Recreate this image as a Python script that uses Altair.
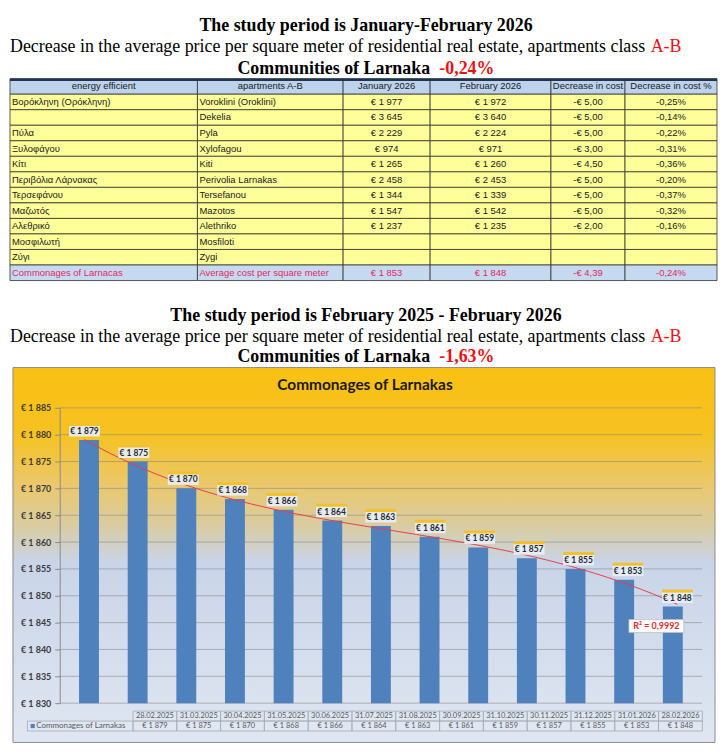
import altair as alt
import pandas as pd

# ---------------- data ----------------
HEADERS = ["energy efficient", "apartments A-B", "January 2026", "February 2026",
           "Decrease in cost", "Decrease in cost %"]
GR_NAMES = ["Βορόκληνη (Ορόκληνη)", "", "Πύλα", "Ξυλοφάγου", "Κίτι", "Περιβόλια Λάρνακας",
            "Τερσεφάνου", "Μαζωτός", "Αλεθρικό", "Μοσφιλωτή", "Ζύγι", "Commonages of Larnacas"]
EN_NAMES = ["Voroklini (Oroklini)", "Dekelia", "Pyla", "Xylofagou", "Kiti", "Perivolia Larnakas",
            "Tersefanou", "Mazotos", "Alethriko", "Mosfiloti", "Zygi", "Average cost per square meter"]
JAN_2026 = [1977, 3645, 2229, 974, 1265, 2458, 1344, 1547, 1237, None, None, 1853]
FEB_2026 = [1972, 3640, 2224, 971, 1260, 2453, 1339, 1542, 1235, None, None, 1848]
DECREASE = [-5.00, -5.00, -5.00, -3.00, -4.50, -5.00, -5.00, -5.00, -2.00, None, None, -4.39]
DECREASE_PCT = [-0.25, -0.14, -0.22, -0.31, -0.36, -0.20, -0.37, -0.32, -0.16, None, None, -0.24]

DATES = ["28.02.2025", "31.03.2025", "30.04.2025", "31.05.2025", "30.06.2025", "31.07.2025",
         "31.08.2025", "30.09.2025", "31.10.2025", "30.11.2025", "31.12.2025", "31.01.2026",
         "28.02.2026"]
PRICES = [1879, 1875, 1870, 1868, 1866, 1864, 1863, 1861, 1859, 1857, 1855, 1853, 1848]
Y_TICKS = [1830, 1835, 1840, 1845, 1850, 1855, 1860, 1865, 1870, 1875, 1880, 1885]
SERIES_NAME = "Commonages of Larnakas"
R2_LABEL = "R² = 0,9992"

TITLE_1 = "The study period is January-February 2026"
TITLE_2 = "The study period is February 2025 - February 2026"
SUBTITLE = "Decrease in the average price per square meter of residential real estate, apartments class"
CLASS_TXT = "A-B"
COMMUNITY = "Communities of Larnaka"
CHANGE_1 = "-0,24%"
CHANGE_2 = "-1,63%"

# ---------------- layout / style ----------------
W = 711
SERIF = "Liberation Serif, Times New Roman, serif"
SANS = "Liberation Sans, Arial, sans-serif"
CAL = "Lato, Liberation Sans, sans-serif"
RED = "#EE1111"
COL_EDGES = [0, 188.5, 335, 422.5, 544, 618.5, 711]


def eur(v):
    return "€ " + f"{v:,}".replace(",", " ")


def eur_dec(v):
    return ("-" if v < 0 else "") + "€ " + f"{abs(v):.2f}".replace(".", ",")


def pct(v):
    return f"{v:.2f}%".replace(".", ",")


def txt(text, x, y, size=18, bold=False, color="black", align="left", font=SERIF):
    return alt.Chart(alt.Data(values=[{"t": text}])).mark_text(
        align=align, baseline="middle", font=font, fontSize=size,
        fontWeight="bold" if bold else "normal", color=color
    ).encode(x=alt.value(x), y=alt.value(y), text="t:N")


def header_panel(title, change, height, y1, y2, y3):
    cx = 358
    start3 = cx - 129.3
    return alt.layer(
        txt(title, cx, y1, bold=True, align="center"),
        txt(SUBTITLE, 0, y2),
        txt(CLASS_TXT, 644.3, y2, color=RED),
        txt(COMMUNITY, start3, y3, bold=True),
        txt(change, start3 + 203, y3, bold=True, color=RED),
    ).properties(width=W, height=height)


# ---------------- panel B : table ----------------
rows = [["head"] + HEADERS]
for i in range(12):
    kind = "total" if i == 11 else "data"
    rows.append([
        kind, GR_NAMES[i], EN_NAMES[i],
        eur(JAN_2026[i]) if JAN_2026[i] is not None else "",
        eur(FEB_2026[i]) if FEB_2026[i] is not None else "",
        eur_dec(DECREASE[i]) if DECREASE[i] is not None else "",
        pct(DECREASE_PCT[i]) if DECREASE_PCT[i] is not None else "",
    ])
cell_recs = []
for r, row in enumerate(rows):
    kind = row[0]
    for c in range(6):
        cell_recs.append({
            "row": r, "col": c, "x0": COL_EDGES[c], "x1": COL_EDGES[c + 1],
            "xc": (COL_EDGES[c] + COL_EDGES[c + 1]) / 2, "kind": kind, "t": row[c + 1],
            "al": "left" if (c < 2 and kind != "head") else "center",
        })
cells = pd.DataFrame(cell_recs)

XT = alt.Scale(domain=[0, W], range=[0, W], nice=False, zero=False)
YT = alt.Scale(domain=list(range(13)), range=[0, 203], paddingInner=0, paddingOuter=0)
kinds = ["head", "data", "total"]
fill_sc = alt.Scale(domain=kinds, range=["#BDD2EC", "#FFFF99", "#C5D9F1"])
txt_sc = alt.Scale(domain=kinds, range=["#1A1A1A", "#1A1A1A", "#E2285A"])

base_t = alt.Chart(cells)
t_cells = base_t.mark_rect(stroke="#333333", strokeWidth=0.8).encode(
    x=alt.X("x0:Q", scale=XT, axis=None), x2="x1:Q",
    y=alt.Y("row:O", scale=YT, axis=None),
    fill=alt.Fill("kind:N", scale=fill_sc, legend=None),
)
t_left = base_t.transform_filter("datum.al == 'left'").mark_text(
    align="left", baseline="middle", font=SANS, fontSize=9.5, dx=2
).encode(
    x=alt.X("x0:Q", scale=XT, axis=None), y=alt.Y("row:O", scale=YT, axis=None),
    text="t:N", color=alt.Color("kind:N", scale=txt_sc, legend=None),
)
t_center = base_t.transform_filter("datum.al == 'center'").mark_text(
    align="center", baseline="middle", font=SANS, fontSize=9.5
).encode(
    x=alt.X("xc:Q", scale=XT, axis=None), y=alt.Y("row:O", scale=YT, axis=None),
    text="t:N", color=alt.Color("kind:N", scale=txt_sc, legend=None),
)
t_top = alt.Chart(alt.Data(values=[{}])).mark_rule(color="#1F3550", strokeWidth=2.5).encode(
    x=alt.value(0), x2=alt.value(W), y=alt.value(1))
panel_b = alt.layer(t_cells, t_left, t_center, t_top).properties(width=W, height=203)

# ---------------- panel D : bar chart ----------------
H_D = 378
PL, PR, PT, PB = 50, 696, 41, 338
XP = alt.Scale(domain=[-0.5, 12.5], range=[PL, PR], nice=False, zero=False)
YP = alt.Scale(domain=[1830, 1885], range=[PB, PT], nice=False, zero=False)
XT2 = alt.Scale(domain=[0, 13], range=[123.7, 696.3], nice=False, zero=False)
YT2 = alt.Scale(domain=["d", "v"], range=[346, 366], paddingInner=0, paddingOuter=0)

bars_df = pd.DataFrame({"i": list(range(13)), "p": PRICES, "d": DATES,
                        "lab": [eur(v) for v in PRICES]})
grid_df = pd.DataFrame({"t": Y_TICKS})

gradient = alt.LinearGradient(
    gradient="linear", x1=0, x2=0, y1=0, y2=1,
    stops=[
        alt.GradientStop(offset=0.0, color="#FAC014"),
        alt.GradientStop(offset=0.18, color="#F6C222"),
        alt.GradientStop(offset=0.31, color="#EBC86A"),
        alt.GradientStop(offset=0.42, color="#DACCA0"),
        alt.GradientStop(offset=0.52, color="#C9D4E8"),
        alt.GradientStop(offset=1.0, color="#E0E7F2"),
    ],
)
box = alt.Chart(alt.Data(values=[{}])).mark_rect(
    fill=gradient, stroke="#8C8C8C", strokeWidth=1
).encode(x=alt.value(3), x2=alt.value(709), y=alt.value(0.5), y2=alt.value(H_D - 0.5))

chart_title = txt(SERIES_NAME, 357, 18, size=15.5, bold=True, color="#1A1A1A",
                  align="center", font=CAL)

grid = alt.Chart(grid_df).mark_rule(color="#8A8A8A", strokeWidth=1, opacity=0.6).encode(
    y=alt.Y("t:Q", scale=YP, axis=None), x=alt.value(PL), x2=alt.value(PR))

bars = alt.Chart(bars_df).mark_bar(size=20, color="#4F81BD").encode(
    x=alt.X("i:Q", scale=XP, axis=None),
    y=alt.Y("p:Q", scale=YP, title=None, axis=alt.Axis(
        values=Y_TICKS, offset=-PL, grid=False, zindex=2,
        labelExpr="'€ ' + floor(datum.value / 1000) + ' ' + (datum.value % 1000)",
        labelFont=CAL, labelFontSize=9, labelFontWeight="bold", labelColor="#3A3A3A",
        labelPadding=4, tickSize=5, tickColor="#8A8A8A", domainColor="#8A8A8A")),
    y2=alt.datum(1830),
)

trend = alt.Chart(bars_df).transform_regression(
    "i", "p", method="poly", order=4, extent=[0, 12]
).mark_line(color="#E6404E", strokeWidth=1).encode(
    x=alt.X("i:Q", scale=XP, axis=None), y=alt.Y("p:Q", scale=YP, axis=None))

lab_box = alt.Chart(bars_df).mark_tick(
    orient="horizontal", size=31, thickness=11, color="#EAEFF7", opacity=0.9, yOffset=-9
).encode(x=alt.X("i:Q", scale=XP, axis=None), y=alt.Y("p:Q", scale=YP, axis=None))
lab_gold = alt.Chart(bars_df).mark_tick(
    orient="horizontal", size=31, thickness=3, color="#F3C12C", opacity=1, yOffset=-15.5
).encode(x=alt.X("i:Q", scale=XP, axis=None), y=alt.Y("p:Q", scale=YP, axis=None))
lab_txt = alt.Chart(bars_df).mark_text(
    font=CAL, fontSize=8.5, fontWeight="bold", color="#1F2A3A", dy=-9, baseline="middle"
).encode(x=alt.X("i:Q", scale=XP, axis=None), y=alt.Y("p:Q", scale=YP, axis=None),
         text="lab:N")

r2_box = alt.Chart(alt.Data(values=[{}])).mark_rect(
    fill="white", stroke="#BFBFBF", strokeWidth=0.8
).encode(x=alt.X(datum=11.02, scale=XP, axis=None), x2=alt.datum(12.13),
         y=alt.Y(datum=1845.56, scale=YP, axis=None), y2=alt.datum(1843.15))
r2_txt = alt.Chart(alt.Data(values=[{"t": R2_LABEL}])).mark_text(
    font=CAL, fontSize=9, fontWeight="bold", color="#E3262D", baseline="middle"
).encode(x=alt.X(datum=11.575, scale=XP, axis=None),
         y=alt.Y(datum=1844.35, scale=YP, axis=None), text="t:N")

tab_recs = []
for i in range(13):
    tab_recs.append({"row": "d", "c0": i, "c1": i + 1, "cm": i + 0.5, "t": DATES[i]})
    tab_recs.append({"row": "v", "c0": i, "c1": i + 1, "cm": i + 0.5, "t": eur(PRICES[i])})
tab_df = pd.DataFrame(tab_recs)
leg_cell = pd.DataFrame([{"row": "v", "c0": -2.41, "c1": 0}])

tab_cells = alt.Chart(pd.concat([tab_df, leg_cell])).mark_rect(
    fill="#E4EAF3", fillOpacity=0.3, stroke="#A3ABB8", strokeWidth=0.8
).encode(x=alt.X("c0:Q", scale=XT2, axis=None), x2="c1:Q",
         y=alt.Y("row:N", scale=YT2, axis=None))
tab_txt = alt.Chart(tab_df).mark_text(
    font=CAL, fontSize=7.5, color="#595959", baseline="middle"
).encode(x=alt.X("cm:Q", scale=XT2, axis=None), y=alt.Y("row:N", scale=YT2, axis=None),
         text="t:N")
leg_df = pd.DataFrame([{"row": "v", "c": -2.29, "ct": -2.21, "t": SERIES_NAME}])
leg_sq = alt.Chart(leg_df).mark_square(size=18, color="#4F81BD", opacity=1).encode(
    x=alt.X("c:Q", scale=XT2, axis=None), y=alt.Y("row:N", scale=YT2, axis=None))
leg_txt = alt.Chart(leg_df).mark_text(
    font=CAL, fontSize=8, color="#595959", align="left", baseline="middle"
).encode(x=alt.X("ct:Q", scale=XT2, axis=None), y=alt.Y("row:N", scale=YT2, axis=None),
         text="t:N")

panel_d = alt.layer(
    box, chart_title, grid, bars, trend, lab_box, lab_gold, lab_txt, r2_box, r2_txt,
    tab_cells, tab_txt, leg_sq, leg_txt
).resolve_scale(x="independent", y="independent").properties(width=W, height=H_D)

# ---------------- assemble ----------------
panel_a = header_panel(TITLE_1, CHANGE_1, 69, 16, 37, 59)
panel_c = header_panel(TITLE_2, CHANGE_2, 87, 36, 57, 77)

chart = alt.vconcat(panel_a, panel_b, panel_c, panel_d, spacing=0).properties(
    padding=0, bounds="flush"
).configure_view(stroke=None)

chart.save("out.html", embed_options={"renderer": "svg", "actions": False})
